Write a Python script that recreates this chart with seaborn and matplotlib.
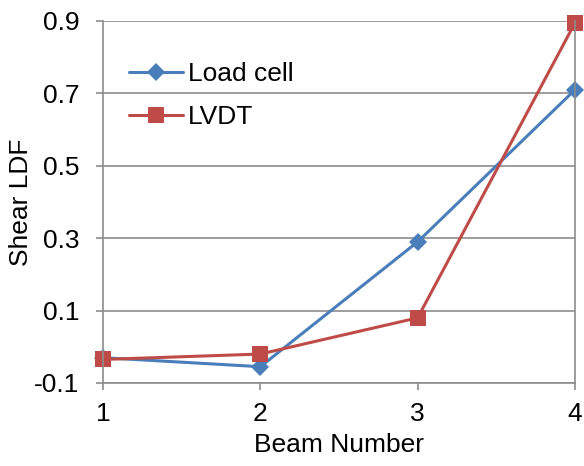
import matplotlib
matplotlib.use("Agg")
import matplotlib.pyplot as plt
import seaborn as sns
import pandas as pd

beams = [1, 2, 3, 4]
load_cell = [-0.03, -0.055, 0.29, 0.71]
lvdt = [-0.035, -0.02, 0.08, 0.895]
yticks = [-0.1, 0.1, 0.3, 0.5, 0.7, 0.9]

sns.set_theme(style="white")
plt.rcParams['font.family'] = ['Liberation Sans', 'DejaVu Sans']
plt.rcParams['text.color'] = 'black'
plt.rcParams['axes.labelcolor'] = 'black'

df = pd.DataFrame({
    "Beam Number": beams * 2,
    "Shear LDF": load_cell + lvdt,
    "Series": ["Load cell"] * 4 + ["LVDT"] * 4,
})

fig = plt.figure(figsize=(5.84, 4.66), dpi=100)
ax = fig.add_axes([103/584, 1 - 383/466, (575-103)/584, (383-21)/466])

palette = {"Load cell": "#4A7EBB", "LVDT": "#BE4B48"}
markers = {"Load cell": "D", "LVDT": "s"}
sizes_ms = {"Load cell": 9, "LVDT": 11}
for name in ["Load cell", "LVDT"]:
    sub = df[df["Series"] == name]
    sns.lineplot(data=sub, x="Beam Number", y="Shear LDF", ax=ax,
                 color=palette[name], marker=markers[name],
                 markersize=sizes_ms[name], linewidth=2.2,
                 markeredgewidth=0, label=name)

fs = 19
ax.set_xlim(1, 4)
ax.set_ylim(-0.1, 0.9)
ax.set_xticks(beams)
ax.set_yticks(yticks)
ax.set_yticklabels([f"{v:.1f}" for v in yticks])
ax.yaxis.grid(True, color="#8C8C8C", linewidth=1.2)
ax.xaxis.grid(False)
for side in ["left", "bottom", "right"]:
    ax.spines[side].set_color("#8C8C8C")
    ax.spines[side].set_linewidth(1.2)
ax.spines["top"].set_visible(False)
ax.tick_params(axis="both", labelsize=fs, colors="#8C8C8C", labelcolor="black",
               length=5, width=1.2, direction="out", bottom=True, left=True)
ax.tick_params(axis="x", pad=9)
ax.tick_params(axis="y", pad=12)
ax.set_xlabel("Beam Number", fontsize=fs, labelpad=5, color="black")
ax.set_ylabel("Shear LDF", fontsize=fs, labelpad=1, color="black")
for l in ax.lines:
    l.set_clip_on(False)

leg = ax.legend(loc="upper left", bbox_to_anchor=(0.032, 0.915), frameon=False,
                fontsize=fs, handlelength=2.05, handletextpad=0.2, labelspacing=0.7,
                borderaxespad=0)
for t in leg.get_texts():
    t.set_color("black")

fig.savefig("out.png", dpi=100)
